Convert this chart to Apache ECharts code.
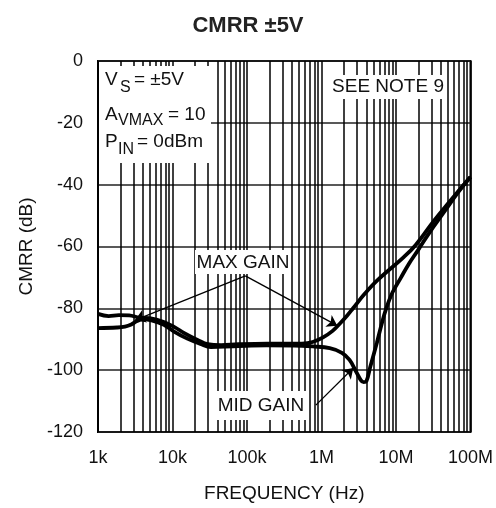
<!DOCTYPE html>
<html>
<head>
<meta charset="utf-8">
<script src="https://cdn.jsdelivr.net/npm/echarts@6/dist/echarts.min.js"></script>
<style>
  html, body { margin: 0; padding: 0; background: #fff; }
  #chart { width: 496px; height: 508px; }
</style>
</head>
<body>
<div id="chart"></div>
<script>
const FONT = '"Liberation Sans", Arial, Helvetica, sans-serif';

// CMRR vs frequency, maximum gain setting
const maxGainFreq = [1000, 1390, 1910, 2620, 3590, 4920, 7660, 10500, 14400, 21700, 29700, 44800, 76600, 184000, 547000, 761000, 1050000, 1410000, 1770000, 2200000, 2670000, 3800000, 5700000, 12500000, 18400000, 33000000, 54400000, 84600000, 100000000];
const maxGainDb   = [-81.8, -82.5, -82.2, -82.3, -83.0, -83.2, -84.4, -86.0, -88.0, -90.2, -91.6, -91.9, -91.6, -91.4, -91.4, -90.9, -89.4, -87.3, -84.9, -82.4, -79.9, -75.3, -70.8, -63.6, -59.5, -51.4, -45.0, -39.5, -37.5];

// CMRR vs frequency, mid gain setting
const midGainFreq = [1000, 1800, 2300, 2800, 3300, 4000, 5240, 7660, 10500, 15800, 23800, 32700, 65300, 184000, 547000, 761000, 1290000, 1880000, 2380000, 2920000, 3370000, 3680000, 4020000, 4510000, 5530000, 6400000, 7400000, 9000000, 11500000, 15000000, 20000000, 28000000, 45000000, 67000000, 100000000];
const midGainDb   = [-86.4, -86.2, -85.9, -85.2, -84.2, -83.6, -83.9, -85.3, -87.5, -89.8, -91.5, -92.5, -92.3, -92.0, -92.1, -92.3, -92.9, -94.4, -96.7, -100.5, -103.2, -103.9, -103.5, -99.0, -91.2, -85.2, -80.0, -74.8, -70.3, -65.5, -61.0, -55.6, -48.6, -42.7, -37.5];

// Axis ticks
const decadeValues = [1e3, 1e4, 1e5, 1e6, 1e7, 1e8];
const xTickLabels = ['1k', '10k', '100k', '1M', '10M', '100M'];
const yTickValues = [0, -20, -40, -60, -80, -100, -120];

// Log-grid multipliers inside each decade
const gridMultipliers = [2, 3, 4, 5, 6, 7, 8, 9];
const gridDecades = [1e3, 1e4, 1e5, 1e6, 1e7];
const minorGridValues = [];
gridDecades.forEach(d => gridMultipliers.forEach(m => minorGridValues.push(d * m)));

// Callout arrows: [start, tip] in data coordinates
const maxGainArrows = [
  [[95000, -69.5], [3160, -83.8]],
  [[95000, -69.5], [1630000, -85.6]]
];
const midGainArrows = [
  [[840000, -111.3], [2670000, -99.3]]
];

const zip = (xs, ys) => xs.map((x, i) => [x, ys[i]]);

const chart = echarts.init(document.getElementById('chart'), null, { renderer: 'canvas' });

const textEl = (x, y, text, size, align) => ({
  type: 'text', x: x, y: y, z: 100, silent: true,
  style: { text: text, fill: '#111', font: size + 'px ' + FONT, align: align || 'left', verticalAlign: 'middle' }
});
const boxEl = (x, y, w, h) => ({
  type: 'rect', z: 99, silent: true,
  shape: { x: x, y: y, width: w, height: h },
  style: { fill: '#fff' }
});

chart.setOption({
  animation: false,
  backgroundColor: '#fff',
  title: {
    text: 'CMRR ±5V',
    left: 'center',
    top: 10,
    textStyle: { fontFamily: FONT, fontSize: 22, fontWeight: 'bold', color: '#222' }
  },
  grid: {
    left: 98, right: 25, top: 61, bottom: 76,
    show: true, borderColor: '#000', borderWidth: 2, backgroundColor: 'transparent'
  },
  xAxis: {
    type: 'log',
    logBase: 10,
    min: 1e3,
    max: 1e8,
    name: 'FREQUENCY (Hz)',
    nameLocation: 'middle',
    nameGap: 52,
    nameTextStyle: { fontFamily: FONT, fontSize: 19, color: '#111' },
    axisLine: { show: false },
    axisTick: { show: false },
    axisLabel: {
      fontFamily: FONT, fontSize: 18, color: '#111', margin: 17,
      alignMinLabel: 'left',
      formatter: v => xTickLabels[Math.round(Math.log10(v)) - 3]
    },
    splitLine: { show: true, lineStyle: { color: '#000', width: 1.5 } }
  },
  yAxis: {
    type: 'value',
    min: -120,
    max: 0,
    interval: 20,
    name: 'CMRR (dB)',
    nameLocation: 'middle',
    nameGap: 60,
    nameTextStyle: { fontFamily: FONT, fontSize: 19, color: '#111' },
    axisLine: { show: false },
    axisTick: { show: false },
    axisLabel: {
      fontFamily: FONT, fontSize: 18, color: '#111', margin: 15,
      formatter: v => (yTickValues.indexOf(v) >= 0 ? String(v) : '')
    },
    splitLine: { show: true, lineStyle: { color: '#222', width: 1.5 } }
  },
  series: [
    {
      // intermediate log grid lines
      type: 'line', data: [], z: 1, silent: true,
      markLine: {
        silent: true, symbol: 'none', animation: false,
        label: { show: false },
        lineStyle: { color: '#000', width: 1.5, type: 'solid' },
        emphasis: { disabled: true },
        data: minorGridValues.map(v => ({ xAxis: v }))
      }
    },
    {
      name: 'MAX GAIN',
      type: 'line',
      data: zip(maxGainFreq, maxGainDb),
      showSymbol: false, smooth: 0.4, z: 5, silent: true,
      lineStyle: { color: '#000', width: 3.8 }
    },
    {
      name: 'MID GAIN',
      type: 'line',
      data: zip(midGainFreq, midGainDb),
      showSymbol: false, smooth: 0.4, z: 5, silent: true,
      lineStyle: { color: '#000', width: 3.8 }
    },
    {
      // callout arrows
      type: 'line', data: [], z: 6, silent: true,
      markLine: {
        silent: true, animation: false,
        symbol: ['none', 'arrow'], symbolSize: 10,
        label: { show: false },
        lineStyle: { color: '#000', width: 1.3, type: 'solid' },
        emphasis: { disabled: true },
        data: maxGainArrows.concat(midGainArrows).map(a => [{ coord: a[0] }, { coord: a[1] }])
      }
    }
  ],
  graphic: [
    // conditions block
    boxEl(99, 66, 112, 97),
    textEl(105, 80, 'V', 19), textEl(120, 88, 'S', 16), textEl(134, 80, '= ±5V', 19),
    textEl(105, 114.5, 'A', 19), textEl(118, 121, 'VMAX', 16), textEl(168, 114.5, '= 10', 19),
    textEl(105, 142, 'P', 19), textEl(118, 150, 'IN', 16), textEl(137, 142, '= 0dBm', 19),
    // note
    boxEl(330, 75, 117, 24),
    textEl(388, 87, 'SEE NOTE 9', 19, 'center'),
    // curve labels
    boxEl(195, 250, 96, 24),
    textEl(243, 263, 'MAX GAIN', 19, 'center'),
    boxEl(213, 391, 95, 29),
    textEl(261, 406, 'MID GAIN', 19, 'center')
  ]
});
</script>
</body>
</html>
